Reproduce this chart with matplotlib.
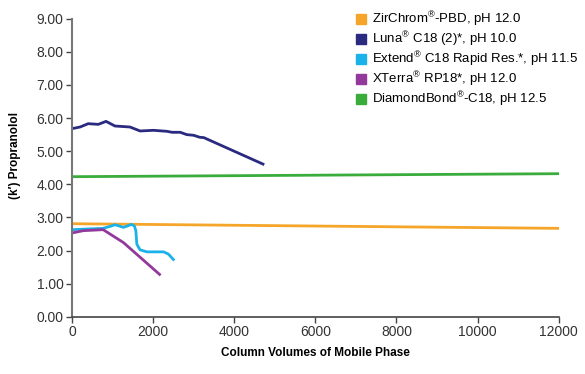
import matplotlib.pyplot as plt
from matplotlib.patches import Patch

# ZirChrom-PBD
zir_x = [0, 12000]
zir_y = [2.81, 2.67]
# Luna C18 (2)
luna_x = [0, 200, 400, 650, 840, 1060, 1430, 1680, 2010, 2340, 2470, 2670, 2830, 3000, 3150, 3250, 4710]
luna_y = [5.68, 5.73, 5.83, 5.81, 5.90, 5.76, 5.73, 5.61, 5.63, 5.60, 5.57, 5.57, 5.50, 5.48, 5.42, 5.41, 4.61]
# Extend C18 Rapid Res.
ext_x = [0, 770, 940, 1060, 1270, 1470, 1540, 1575, 1600, 1680, 1850, 2260, 2380, 2500]
ext_y = [2.63, 2.67, 2.73, 2.78, 2.70, 2.79, 2.74, 2.60, 2.19, 2.02, 1.96, 1.96, 1.89, 1.73]
# XTerra RP18
xt_x = [0, 280, 770, 1270, 2160]
xt_y = [2.53, 2.60, 2.63, 2.24, 1.28]
# DiamondBond-C18
dia_x = [0, 12000]
dia_y = [4.23, 4.32]

labels = [r'ZirChrom$^{®}$-PBD, pH 12.0', r'Luna$^{®}$ C18 (2)*, pH 10.0',
          r'Extend$^{®}$ C18 Rapid Res.*, pH 11.5', r'XTerra$^{®}$ RP18*, pH 12.0',
          r'DiamondBond$^{®}$-C18, pH 12.5']
colors = ['#f5a52a', '#2a2a80', '#1ab2e8', '#92399b', '#3aac3c']

plt.rcParams['font.family'] = ['Liberation Sans', 'DejaVu Sans']
plt.rcParams['mathtext.fontset'] = 'custom'
plt.rcParams['mathtext.rm'] = 'Liberation Sans'
plt.rcParams['mathtext.it'] = 'Liberation Sans'

fig = plt.figure(figsize=(5.85, 3.74), dpi=100)
ax = fig.add_axes([0.123, 0.153, 0.832, 0.797])

series = [(zir_x, zir_y), (luna_x, luna_y), (ext_x, ext_y), (xt_x, xt_y), (dia_x, dia_y)]
for (xs, ys), c in zip(series, colors):
    ax.plot(xs, ys, color=c, lw=2)

ax.set_xlim(0, 12000)
ax.set_ylim(0, 9)
ax.set_xticks(range(0, 12001, 2000))
ax.set_yticks(range(0, 10))
ax.set_yticklabels(['%.2f' % v for v in range(0, 10)])
for s in ['top', 'right']:
    ax.spines[s].set_visible(False)
ax.spines['left'].set_color('#777777')
ax.spines['bottom'].set_color('#444444')
ax.spines['left'].set_linewidth(1.5)
ax.spines['bottom'].set_linewidth(1.2)
ax.tick_params(colors='#444444', labelcolor='#333333', labelsize=10, length=4, width=1, pad=2)
ax.set_xlabel('Column Volumes of Mobile Phase', fontweight='bold', fontsize=8.5, labelpad=6)
ax.set_ylabel('(k′) Propranolol', fontweight='bold', fontsize=8.5)
ax.yaxis.set_label_coords(-0.105, 0.54)

handles = [Patch(color=c) for c in colors]
ax.legend(handles, labels, loc='upper left', bbox_to_anchor=(0.584, 1.03), frameon=False,
          fontsize=9.5, handlelength=0.76, handleheight=0.76, handletextpad=0.45,
          labelspacing=0.08, borderpad=0, borderaxespad=0)

fig.savefig('out.png', dpi=100)
